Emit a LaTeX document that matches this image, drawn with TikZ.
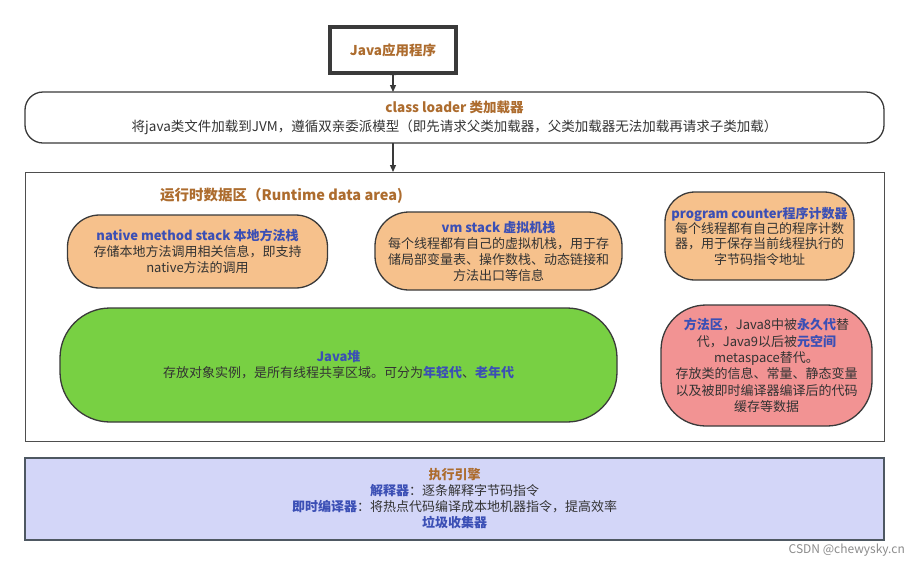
\documentclass[tikz,border=0pt]{standalone}
\usepackage{fontspec}
\setmainfont{Noto Sans CJK SC}
\usetikzlibrary{arrows.meta}
\definecolor{brn}{HTML}{AD6C2E}
\definecolor{blu}{HTML}{3B4FB5}
\definecolor{peach}{HTML}{F6C18C}
\definecolor{grn}{HTML}{78D043}
\definecolor{pnk}{HTML}{F29393}
\definecolor{lav}{HTML}{D3D6F8}
\definecolor{edge}{HTML}{3A3A3A}
\definecolor{slate}{HTML}{4E5862}
\definecolor{txt}{HTML}{333333}
\tikzset{
  box/.style={draw=edge, line width=1.3pt, inner sep=0pt, outer sep=0pt, align=center,
    text=txt, font=\fontsize{13}{16}\selectfont},
  arr/.style={draw=edge, line width=1.2pt, -{Triangle[length=7pt,width=6pt]}},
}
\newcommand{\bt}[1]{{\bfseries\color{blu}#1}}
\newcommand{\br}[1]{{\bfseries\color{brn}#1}}
\begin{document}
\begin{tikzpicture}[x=1pt,y=-1pt]
\useasboundingbox[fill=white] (0,0) rectangle (909,566);
% Java application
\node[box, line width=4pt, draw=edge, minimum width=126pt, minimum height=46pt, font=\fontsize{13.5}{16}\selectfont] (app) at (393,50) {\br{Java应用程序}};
\fill[edge] (390,25) rectangle (396,28) (390,72) rectangle (396,75);
% class loader
\node[box, rounded corners=18pt, minimum width=859pt, minimum height=51pt, font=\fontsize{13.5}{16}\selectfont] (cl) at (454.5,117.5)
  {\br{class loader 类加载器}\\[3pt]将java类文件加载到JVM，遵循双亲委派模型（即先请求父类加载器，父类加载器无法加载再请求子类加载）};
\draw[arr] (app.south) -- (cl.north -| app.south);
% runtime data area
\node[box, line width=1pt, draw=edge!90, minimum width=859pt, minimum height=269pt] (rt) at (454.5,306.5) {};
\draw[arr] (cl.south -| app.south) -- (rt.north -| app.south);
\node[anchor=west, inner sep=0pt, font=\fontsize{14.5}{16}\selectfont\bfseries, text=brn] (rtt) at (160,196) {运行时数据区（Runtime data area)};
% native method stack
\node[box, fill=peach, rounded corners=32pt, minimum width=260pt, minimum height=73pt] (nms) at (197.5,251.5)
  {\bt{native method stack 本地方法栈}\\存储本地方法调用相关信息，即支持\\native方法的调用};
% vm stack
\node[box, fill=peach, rounded corners=34pt, minimum width=247pt, minimum height=78pt] (vms) at (498.5,251)
  {\bt{vm stack 虚拟机栈}\\每个线程都有自己的虚拟机栈，用于存\\储局部变量表、操作数栈、动态链接和\\方法出口等信息};
% program counter
\node[box, fill=peach, rounded corners=30pt, minimum width=189pt, minimum height=88pt, font=\fontsize{13}{15.3}\selectfont] (pc) at (759.5,236)
  {\bt{program counter程序计数器}\\每个线程都有自己的程序计数\\器，用于保存当前线程执行的\\字节码指令地址};
% heap
\node[box, fill=grn, rounded corners=50pt, minimum width=557pt, minimum height=114pt] (heap) at (338.5,365)
  {\bt{Java堆}\\存放对象实例，是所有线程共享区域。可分为\bt{年轻代}、\bt{老年代}};
% method area
\node[box, fill=pnk, rounded corners=45pt, minimum width=211pt, minimum height=121pt, font=\fontsize{13}{16.4}\selectfont] (ma) at (766.5,365.5)
  {\bt{方法区}，Java8中被\bt{永久代}替\\代，Java9以后被\bt{元空间}\\metaspace替代。\\存放类的信息、常量、静态变量\\以及被即时编译器编译后的代码\\缓存等数据};
% execution engine
\node[box, fill=lav, draw=slate, line width=2pt, minimum width=859pt, minimum height=82pt] (ee) at (454.5,499)
  {\br{执行引擎}\\\bt{解释器}：逐条解释字节码指令\\\bt{即时编译器}：将热点代码编译成本地机器指令，提高效率\\\bt{垃圾收集器}};
% watermark
\node[anchor=east, inner sep=0pt, text=black!45, font=\fontsize{12}{14}\selectfont] (wm) at (905,550) {CSDN @chewysky.cn};
\end{tikzpicture}
\end{document}
